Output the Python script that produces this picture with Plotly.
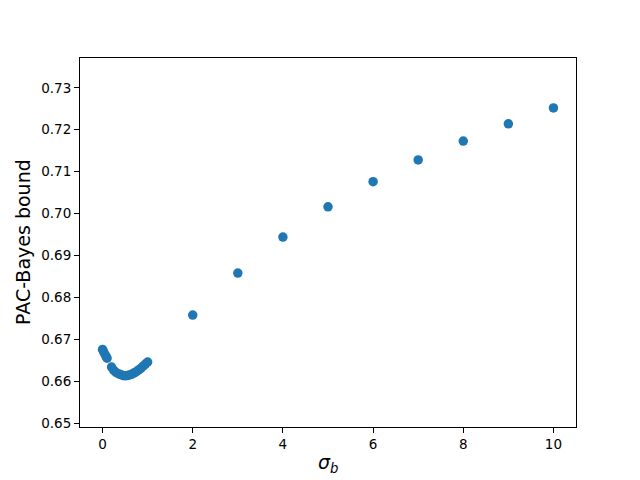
import plotly.graph_objects as go

sigma_b = [0, 0.02, 0.05, 0.08, 0.1, 0.2, 0.25, 0.3, 0.35, 0.4, 0.45, 0.5, 0.55,
           0.6, 0.65, 0.7, 0.75, 0.8, 0.85, 0.9, 0.95, 1.0,
           2, 3, 4, 5, 6, 7, 8, 9, 10]
bound = [0.6676, 0.6671, 0.6665, 0.6659, 0.6655, 0.6634, 0.6626, 0.6621, 0.6618,
         0.6616, 0.6614, 0.6613, 0.6614, 0.6615, 0.6617, 0.6620, 0.6623, 0.6627,
         0.6631, 0.6636, 0.6641, 0.6646,
         0.6758, 0.6858, 0.6944, 0.7016, 0.7076, 0.7128, 0.7173, 0.7214, 0.7252]

fig = go.Figure(go.Scatter(
    x=sigma_b, y=bound, mode="markers",
    marker=dict(color="#1f77b4", size=9.5, line=dict(width=0)),
))

axis_common = dict(
    showline=True, linecolor="black", linewidth=1, mirror=True,
    ticks="outside", ticklen=5, tickcolor="black", showgrid=False,
    zeroline=False, tickfont=dict(size=13.5, color="black"), automargin=False,
)

# page body has an 8px margin, so the figure is offset by 8px
L, R, T, B = 72, 72, 50, 61
W, H = 640, 480
fig.update_layout(
    width=W, height=H,
    margin=dict(l=L, r=R, t=T, b=B, pad=0),
    paper_bgcolor="white", plot_bgcolor="white",
    font=dict(family="DejaVu Sans", color="black"),
    showlegend=False,
    xaxis=dict(range=[-0.5, 10.5], dtick=2, tick0=0, **axis_common),
    yaxis=dict(range=[0.6491, 0.7371], dtick=0.01, tick0=0.65, tickformat=".2f",
               **axis_common),
)
pw, ph = W - L - R, H - T - B


def px(xp, yp):
    return (xp - L) / pw, (H - yp - B) / ph


ax, ay = px(320, 455)
bx, by = px(15, 234)
fig.add_annotation(text="<i>σ</i><sub><i>b</i></sub>", x=ax, y=ay, xref="paper", yref="paper",
                   showarrow=False, font=dict(size=19), xanchor="center", yanchor="middle")
fig.add_annotation(text="PAC-Bayes bound", x=bx, y=by, textangle=-90, xref="paper", yref="paper",
                   showarrow=False, font=dict(size=19), xanchor="center", yanchor="middle")

fig.write_html("out.html")
